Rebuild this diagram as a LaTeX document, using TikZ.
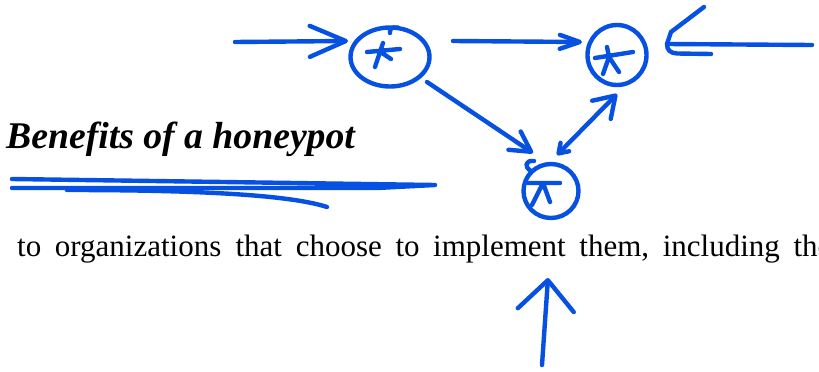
\documentclass[tikz,border=0pt]{standalone}
\usepackage{fontspec}
\setmainfont{Liberation Serif}
\usetikzlibrary{arrows.meta,calc,shapes.geometric}
\definecolor{ink}{RGB}{6,80,226}
\tikzset{
  pen/.style={draw=ink, line width=4.4pt, line cap=round, line join=round},
  bubble/.style={pen, ellipse, inner sep=0pt, outer sep=0pt},
  word/.style={anchor=base west, inner sep=0pt, font=\fontsize{31}{36}\selectfont},
  headline/.style={anchor=base west, inner sep=0pt, font=\fontsize{37.7}{42}\selectfont\bfseries\itshape},
}
\begin{document}
\begin{tikzpicture}[x=1pt,y=-1pt]
\useasboundingbox (0,0) rectangle (819,372);

% texts
\node[headline] (title) at (6,148) {Benefits of a honeypot};
\node[word] (w1) at (17,256) {to};
\node[word] (w2) at (54.7,256) {organizations};
\node[word] (w3) at (235.3,256) {that};
\node[word] (w4) at (295.6,256) {choose};
\node[word] (w5) at (395.3,256) {to};
\node[word] (w6) at (433,256) {implement};
\node[word] (w7) at (579.2,256) {them,};
\node[word] (w8) at (662.6,256) {including};
\node[word] (w9) at (793.3,256) {the};

% bubbles
\node[bubble, minimum width=79pt, minimum height=59pt] (A) at (390,57) {};
\node[bubble, minimum width=59pt, minimum height=60pt] (B) at (617,55) {};
\node[bubble, minimum width=55pt, minimum height=54pt] (C) at (551,191) {};

% small pen hooks where the circles were closed
\draw[pen, shift={(A.center)}] (0,-24) .. controls (-1,-29) and (3,-30) .. (8,-29.5);
\draw[pen, shift={(C.center)}] (-20,-20) .. controls (-27,-24) and (-26,-31) .. (-17,-30);

% hand-drawn asterisks
\draw[pen, shift={(A.center)}] (-23,-5) -- (10,-8) (-7,-14) -- (-15,10) (-8,-4) -- (1,2);
\draw[pen, shift={(B.center)}] (-22,3) -- (16,-3) (-10,-8) -- (-8,2) -- (-14,19) (-8,2) -- (2,17);
\draw[pen, shift={(C.center)}] (-23,-8) -- (9,-8) (-8,-8) -- (-19,14) (-8,-8) -- (-1,11);

% free ends
\coordinate (inL) at (235,42);
\coordinate (inR) at (812,45);
\coordinate (upB) at (542,365);
\coordinate (upT) at (548,278);
\coordinate (rt) at ($(B.center)+(50,-11)$);

% connectors
\draw[pen, -{Straight Barb[length=36pt,width=31pt,round]}] (inL) -- ($(A.center)+(-42,-16)$);
\draw[pen, -{Straight Barb[length=20pt,width=14pt,round]}] ($(A.center)+(63,-16)$) -- ($(B.center)+(-35,-13)$);
\draw[pen, -{Straight Barb[length=20pt,width=22pt,round]}] ($(A.center)+(37,25)$) -- ($(C.center)+(-18,-38)$);
\draw[pen, {Straight Barb[length=9pt,width=12pt,round]}-{Straight Barb[length=20pt,width=26pt,round]}] ($(C.center)+(6,-36)$) -- ($(B.center)+(0,39)$);
\draw[pen] (inR) -- (rt);
\draw[pen, shift={(rt)}] (37,-37) -- (4,-12) -- (0,0) .. controls (0,6) and (3,9) .. (10,9.5) -- (44,10);
\draw[pen, -{Straight Barb[length=30pt,width=56pt,round]}] (upB) -- (upT);

% underline scribble
\draw[pen] (12,179) -- (435,185) -- (377,188) -- (12,188);
\draw[pen] (67,190) .. controls (200,190) and (290,195) .. (327,207);
\end{tikzpicture}
\end{document}
